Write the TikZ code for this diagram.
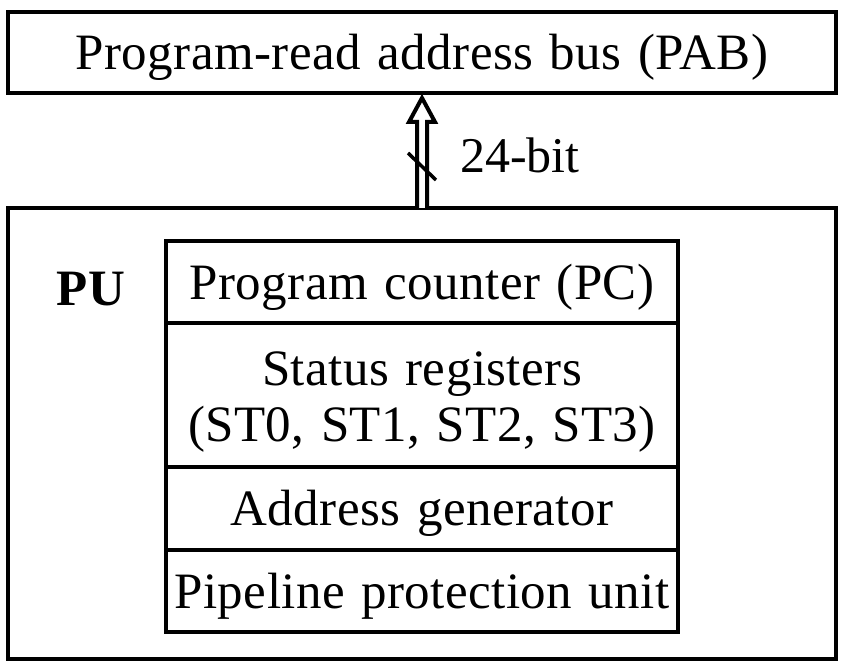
\documentclass[tikz,border=0pt]{standalone}
\usepackage{fontspec}
\setmainfont{Liberation Serif}[LetterSpace=0.9, WordSpace=1.25]
\newfontfamily\plainserif{Liberation Serif}
\usetikzlibrary{calc}
\tikzset{
  box/.style={draw, line width=4pt, inner sep=0pt, outer sep=0pt, align=center},
  row/.style={box, minimum width=512pt},
  hollowarrow/.style={draw, fill=white, line width=4pt, line join=miter},
  txt/.style={font=\fontsize{51}{60}\selectfont, text height=34pt, text depth=0pt},
  lbl/.style={txt, inner sep=0pt, outer sep=0pt}
}
\begin{document}
\begin{tikzpicture}[x=1pt,y=-1pt]
\useasboundingbox (0,0) rectangle (845,668);
% top bus
\node[box, txt, minimum width=828pt, minimum height=80.5pt] (pab) at (422,52.75) {Program-read address bus (PAB)};
% PU container
\node[box, minimum width=828pt, minimum height=451pt] (pu) at (422,433.5) {};
\node[lbl, font=\fontsize{51}{60}\selectfont\bfseries] (pul) at (91,288.5) {PU};
% rows
\node[row, txt, minimum height=82pt] (pc) at (422,282) {Program counter (PC)};
\node[row, minimum height=144pt] (st) at (422,395) {};
\node[lbl] (st1) at ($(st.center)+(0,-26.5)$) {Status registers};
\node[lbl] (st2) at ($(st.center)+(0,29.5)$) {(ST0, ST1, ST2, ST3)};
\node[row, txt, minimum height=83pt] (ag) at (422,508.5) {Address generator};
\node[row, txt, minimum height=82pt] (ppu) at (422,591) {Pipeline protection unit};
% hollow arrow PU -> PAB
\draw[hollowarrow] let \p1=(pu.north), \p2=(pab.south) in
  (\x1-5pt,\y1) -- (\x1-5pt,\y2-29pt) -- (\x1-13pt,\y2-29pt) -- (\x2,\y2-5pt)
  -- (\x1+13pt,\y2-29pt) -- (\x1+5pt,\y2-29pt) -- (\x1+5pt,\y1);
\draw[line width=3.5pt] ($(pu.north)+(-14,-55)$) coordinate (s1) -- ($(pu.north)+(14,-28)$) coordinate (s2);
\node[lbl, font=\fontsize{50}{60}\plainserif, anchor=west] (bits) at (460,156) {24-bit};
\end{tikzpicture}
\end{document}
